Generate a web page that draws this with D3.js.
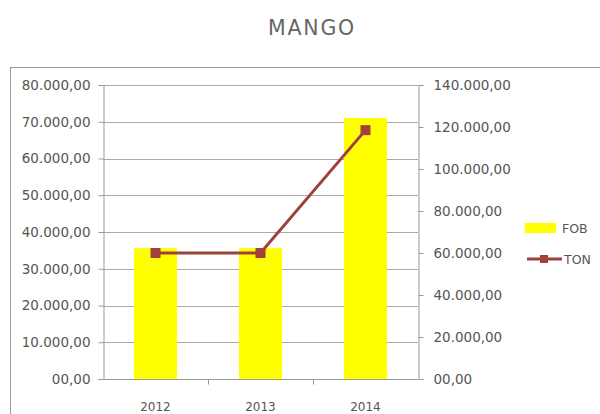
<!DOCTYPE html>
<html>
<head>
<meta charset="utf-8">
<script src="https://cdn.jsdelivr.net/npm/d3@7/dist/d3.min.js"></script>
<style>
  html, body { margin: 0; padding: 0; background: #fff; }
  svg { display: block; }
  text { font-family: "DejaVu Sans", sans-serif; fill: #555; }
</style>
</head>
<body>
<svg id="chart" width="600" height="414"></svg>
<script>
// Mango exports: FOB value (bars, left axis) and tonnage (line, right axis)
const years = ["2012", "2013", "2014"];
const fobValues = [35600, 35600, 71000];
const tonValues = [60000, 60000, 118500];
const leftTicks = [0, 10000, 20000, 30000, 40000, 50000, 60000, 70000, 80000];
const rightTicks = [0, 20000, 40000, 60000, 80000, 100000, 120000, 140000];
const seriesNames = ["FOB", "TON"];

const svg = d3.select("#chart");
const plot = { left: 103, right: 418, top: 85, bottom: 379 };

// Spanish-style number format: 80.000,00 (zero shown as 00,00)
const fmt = v => {
  if (v === 0) return "00,00";
  const s = Math.round(v).toString().replace(/\B(?=(\d{3})+(?!\d))/g, ".");
  return s + ",00";
};

// chart frame
svg.append("rect")
  .attr("x", 10.5).attr("y", 67.5)
  .attr("width", 620).attr("height", 400)
  .attr("fill", "none").attr("stroke", "#999").attr("stroke-width", 1);

// title
svg.append("text")
  .attr("x", 312).attr("y", 35)
  .attr("text-anchor", "middle")
  .style("font-size", "20.5px")
  .style("letter-spacing", "1.8px")
  .style("fill", "#666")
  .text("MANGO");

const x = d3.scaleBand()
  .domain(years)
  .range([plot.left, plot.right])
  .paddingInner(0.59)
  .paddingOuter(0.295);

const xStep = d3.scaleBand().domain(years).range([plot.left, plot.right]).padding(0);

const yLeft = d3.scaleLinear().domain([0, 80000]).range([plot.bottom, plot.top]);
const yRight = d3.scaleLinear().domain([0, 140000]).range([plot.bottom, plot.top]);

// horizontal gridlines
svg.append("g")
  .selectAll("line")
  .data(leftTicks.filter(d => d > 0))
  .join("line")
  .attr("x1", plot.left).attr("x2", plot.right)
  .attr("y1", d => Math.round(yLeft(d)) + 0.5)
  .attr("y2", d => Math.round(yLeft(d)) + 0.5)
  .attr("stroke", "#aaa").attr("stroke-width", 1);

// bars
svg.append("g")
  .selectAll("rect")
  .data(years.map((y, i) => ({ year: y, v: fobValues[i] })))
  .join("rect")
  .attr("x", d => x(d.year))
  .attr("width", x.bandwidth())
  .attr("y", d => yLeft(d.v))
  .attr("height", d => yLeft(0) - yLeft(d.v))
  .attr("fill", "#ffff00");

// left axis
const leftAxis = svg.append("g")
  .attr("transform", `translate(${plot.left + 0.5},0)`)
  .call(d3.axisLeft(yLeft).tickValues(leftTicks).tickFormat(fmt).tickSize(5).tickPadding(8));

// right axis
const rightAxis = svg.append("g")
  .attr("transform", `translate(${plot.right + 0.5},0)`)
  .call(d3.axisRight(yRight).tickValues(rightTicks).tickFormat(fmt).tickSize(5).tickPadding(10));

[leftAxis, rightAxis].forEach(g => {
  g.select(".domain").attr("stroke", "#999");
  g.selectAll(".tick line").attr("stroke", "#999");
  g.selectAll(".tick text").style("font-size", "13.5px").style("fill", "#555")
    .style("font-family", "DejaVu Sans, sans-serif");
});

// bottom axis: category ticks between bands
const bottom = svg.append("g").attr("transform", `translate(0,${plot.bottom + 0.5})`);
bottom.append("line")
  .attr("x1", plot.left).attr("x2", plot.right)
  .attr("stroke", "#999");
bottom.selectAll("line.tk")
  .data(years.slice(1))
  .join("line")
  .attr("class", "tk")
  .attr("x1", d => Math.round(xStep(d)) + 0.5)
  .attr("x2", d => Math.round(xStep(d)) + 0.5)
  .attr("y1", 0).attr("y2", 5)
  .attr("stroke", "#999");
bottom.selectAll("text")
  .data(years)
  .join("text")
  .attr("x", d => x(d) + x.bandwidth() / 2)
  .attr("y", 31)
  .attr("text-anchor", "middle")
  .style("font-size", "12px")
  .text(d => d);

// TON line with square markers
const tonPts = years.map((y, i) => ({ year: y, v: tonValues[i] }));
const line = d3.line()
  .x(d => x(d.year) + x.bandwidth() / 2)
  .y(d => yRight(d.v));

svg.append("path")
  .datum(tonPts)
  .attr("d", line)
  .attr("fill", "none")
  .attr("stroke", "#a0403c")
  .attr("stroke-width", 3);

svg.append("g")
  .selectAll("rect")
  .data(tonPts)
  .join("rect")
  .attr("x", d => x(d.year) + x.bandwidth() / 2 - 5)
  .attr("y", d => yRight(d.v) - 5)
  .attr("width", 10).attr("height", 10)
  .attr("fill", "#a3403b");

// legend
const legend = svg.append("g");
legend.append("rect")
  .attr("x", 525).attr("y", 223)
  .attr("width", 31).attr("height", 10)
  .attr("fill", "#ffff00");
legend.append("text")
  .attr("x", 562).attr("y", 233)
  .style("font-size", "12.5px")
  .text(seriesNames[0]);

legend.append("line")
  .attr("x1", 527).attr("x2", 562)
  .attr("y1", 259).attr("y2", 259)
  .attr("stroke", "#a0403c").attr("stroke-width", 3);
legend.append("rect")
  .attr("x", 540).attr("y", 255)
  .attr("width", 8).attr("height", 8)
  .attr("fill", "#a3403b");
legend.append("text")
  .attr("x", 564).attr("y", 264)
  .style("font-size", "12.5px")
  .text(seriesNames[1]);
</script>
</body>
</html>
